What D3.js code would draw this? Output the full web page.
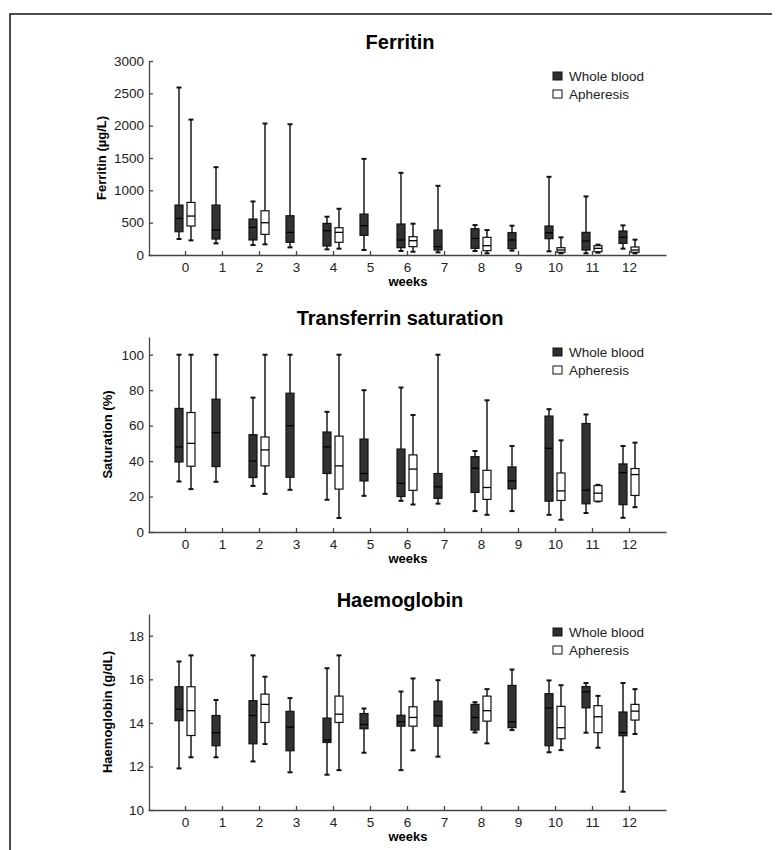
<!DOCTYPE html>
<html>
<head>
<meta charset="utf-8">
<script src="https://cdn.jsdelivr.net/npm/d3@7"></script>
<style>
  body { margin: 0; background: #fff; }
  svg { font-family: "Liberation Sans", Arial, sans-serif; }
</style>
</head>
<body>
<div id="chart"></div>
<script>
// [week, low whisker, q1, median, q3, high whisker]
const weeks = [0, 1, 2, 3, 4, 5, 6, 7, 8, 9, 10, 11, 12];
const seriesNames = ['Whole blood', 'Apheresis'];

const ferritinWB = [
  [0, 247, 360, 566, 772, 2590], [1, 180, 247, 386, 772, 1358], [2, 154, 232, 427, 556, 828],
  [3, 118, 196, 350, 607, 2022], [4, 87, 139, 376, 489, 592], [5, 77, 304, 453, 633, 1487],
  [6, 62, 113, 232, 479, 1271], [7, 41, 77, 130, 386, 1070], [8, 62, 103, 257, 407, 463],
  [9, 67, 98, 232, 345, 453], [10, 57, 252, 345, 448, 1209], [11, 26, 77, 216, 350, 906],
  [12, 98, 180, 273, 371, 458]
];
const ferritinAP = [
  [0, 226, 448, 602, 813, 2094], [2, 165, 319, 499, 684, 2033], [4, 98, 196, 350, 422, 715],
  [6, 51, 129, 221, 283, 484], [8, 26, 67, 144, 273, 386], [10, 26, 41, 77, 113, 273],
  [11, 36, 51, 103, 144, 160], [12, 26, 41, 77, 124, 237]
];

const satWB = [
  [0, 28.5, 39.5, 48, 69.7, 100], [1, 28.3, 36.9, 56, 74.9, 100], [2, 26, 30.7, 40, 54.9, 75.8],
  [3, 23.8, 30.9, 60, 78.3, 100], [4, 18.2, 33, 48, 56.4, 67.8], [5, 20.4, 28.8, 33, 52.4, 80],
  [6, 17.6, 20, 27.5, 46.8, 81.5], [7, 16, 19, 25.5, 33, 100], [8, 11.8, 22.3, 36, 42.5, 45.7],
  [9, 11.8, 24.3, 28.8, 36.7, 48.5], [10, 9.7, 17.4, 47.2, 65.4, 69.3], [11, 10.7, 15.9, 23.6, 61.2, 66.3],
  [12, 8, 15.4, 33.5, 38.4, 48.5]
];
const satAP = [
  [0, 24.2, 37.1, 50, 67.4, 100], [2, 21.5, 37.3, 46.3, 53.6, 100], [4, 7.9, 24.2, 37.3, 54.1, 100],
  [6, 15.5, 23.5, 35.5, 43.5, 66], [8, 9.7, 18.4, 25.1, 34.8, 74.3], [10, 6.9, 17.8, 23.2, 33.3, 51.7],
  [11, 17.2, 17.4, 21.9, 26.2, 26.6], [12, 14, 20.6, 32.4, 35.8, 50.4]
];

const hbWB = [
  [0, 11.91, 14.1, 14.63, 15.66, 16.82], [1, 12.42, 12.95, 13.55, 14.34, 15.05], [2, 12.23, 13.04, 14.34, 15.02, 17.1],
  [3, 11.73, 12.72, 13.81, 14.53, 15.14], [4, 11.62, 13.1, 13.21, 14.22, 16.51], [5, 12.63, 13.73, 13.93, 14.43, 14.66],
  [6, 11.83, 13.85, 14.05, 14.35, 15.44], [7, 12.45, 13.85, 14.33, 15.0, 15.96], [8, 13.56, 13.67, 14.25, 14.85, 14.95],
  [9, 13.67, 13.78, 14.05, 15.72, 16.45], [10, 12.65, 12.95, 14.69, 15.34, 15.95], [11, 13.55, 14.69, 15.43, 15.67, 15.83],
  [12, 10.84, 13.41, 13.55, 14.5, 15.83]
];
const hbAP = [
  [0, 12.42, 13.42, 14.56, 15.66, 17.1], [2, 13.03, 14.02, 14.85, 15.32, 16.12], [4, 11.83, 14.02, 14.4, 15.23, 17.1],
  [6, 12.74, 13.85, 14.25, 14.74, 16.04], [8, 13.06, 14.08, 14.56, 15.23, 15.55], [10, 12.75, 13.27, 13.78, 14.76, 15.73],
  [11, 12.86, 13.55, 14.28, 14.79, 15.24], [12, 13.49, 14.13, 14.54, 14.85, 15.55]
];

const ferritinTicks = [0, 500, 1000, 1500, 2000, 2500, 3000];
const satTicks = [0, 20, 40, 60, 80, 100];
const hbTicks = [10, 12, 14, 16, 18];

const svg = d3.select('#chart').append('svg')
  .attr('width', 782)
  .attr('height', 850);

// scanned frame
svg.append('path')
  .attr('d', 'M10,850 L10,14 L772,14')
  .attr('fill', 'none')
  .attr('stroke', '#111')
  .attr('stroke-width', 1.5);

class BoxPanel {
  constructor(_config, _wb, _ap) {
    this.config = _config;
    this.wb = _wb;
    this.ap = _ap;
    this.initVis();
  }

  initVis() {
    let vis = this;
    const c = vis.config;

    vis.x = d3.scaleLinear().domain([-1, 13]).range([148, 666]);
    vis.y = d3.scaleLinear().domain(c.domain).range([c.bottom, c.top]);

    vis.g = svg.append('g');

    // axes, ticks pointing inwards
    vis.g.append('g')
      .attr('class', 'y-axis')
      .attr('transform', 'translate(149,0)')
      .call(d3.axisRight(vis.y).tickValues(c.ticks).tickSize(4).tickSizeOuter(0).tickFormat(d3.format('d')))
      .call(g => g.selectAll('text').attr('x', -5).attr('text-anchor', 'end'));

    vis.g.append('g')
      .attr('class', 'x-axis')
      .attr('transform', `translate(0,${c.bottom})`)
      .call(d3.axisTop(vis.x).tickValues(weeks).tickSize(4).tickSizeOuter(0))
      .call(g => g.selectAll('text').attr('y', 17).attr('dy', 0));

    vis.g.selectAll('.domain, .tick line')
      .attr('stroke', '#444')
      .attr('stroke-width', 1.3);
    vis.g.selectAll('.tick text')
      .attr('font-size', 13.5)
      .attr('fill', '#222');

    // titles
    vis.g.append('text')
      .attr('x', 400).attr('y', c.titleY)
      .attr('text-anchor', 'middle')
      .attr('font-size', 20).attr('font-weight', 'bold')
      .text(c.title);

    vis.g.append('text')
      .attr('transform', `translate(${c.labelX},${(c.top + c.bottom) / 2}) rotate(-90)`)
      .attr('text-anchor', 'middle')
      .attr('font-size', 13).attr('font-weight', 'bold')
      .text(c.yLabel);

    vis.g.append('text')
      .attr('x', 408).attr('y', c.bottom + 31)
      .attr('text-anchor', 'middle')
      .attr('font-size', 13).attr('font-weight', 'bold')
      .text('weeks');

    // legend
    const legend = vis.g.selectAll('.legend')
      .data(seriesNames)
      .join('g')
      .attr('class', 'legend')
      .attr('transform', (d, i) => `translate(553,${c.legendY + i * 18})`);
    legend.append('rect')
      .attr('x', 0).attr('y', -4).attr('width', 9).attr('height', 8)
      .attr('fill', (d, i) => i === 0 ? '#2e2e2e' : '#fff')
      .attr('stroke', '#111').attr('stroke-width', 1);
    legend.append('text')
      .attr('x', 16).attr('y', 5)
      .attr('font-size', 13.5).attr('fill', '#222')
      .text(d => d);

    vis.renderVis();
  }

  renderVis() {
    let vis = this;
    const w = 8;

    const series = [
      { data: vis.wb, dx: -6, fill: '#323232', med: '#000' },
      { data: vis.ap, dx: 6, fill: '#fff', med: '#000' }
    ];

    series.forEach(s => {
      const box = vis.g.append('g').selectAll('g')
        .data(s.data)
        .join('g')
        .attr('transform', d => `translate(${vis.x(d[0]) + s.dx},0)`);

      box.append('line')
        .attr('y1', d => vis.y(d[1])).attr('y2', d => vis.y(d[5]))
        .attr('stroke', '#1a1a1a').attr('stroke-width', 1.5);
      box.append('line')
        .attr('x1', -2.5).attr('x2', 2.5)
        .attr('y1', d => vis.y(d[5])).attr('y2', d => vis.y(d[5]))
        .attr('stroke', '#111').attr('stroke-width', 2);
      box.append('line')
        .attr('x1', -2.5).attr('x2', 2.5)
        .attr('y1', d => vis.y(d[1])).attr('y2', d => vis.y(d[1]))
        .attr('stroke', '#111').attr('stroke-width', 2);
      box.append('rect')
        .attr('x', -w / 2).attr('width', w)
        .attr('y', d => vis.y(d[4]))
        .attr('height', d => Math.max(1, vis.y(d[2]) - vis.y(d[4])))
        .attr('fill', s.fill)
        .attr('stroke', '#111').attr('stroke-width', 1.2);
      box.append('line')
        .attr('x1', -w / 2).attr('x2', w / 2)
        .attr('y1', d => vis.y(d[3])).attr('y2', d => vis.y(d[3]))
        .attr('stroke', s.med).attr('stroke-width', 1.3);
    });
  }
}

new BoxPanel({
  title: 'Ferritin', titleY: 49, yLabel: 'Ferritin (\u00b5g/L)', labelX: 106,
  domain: [0, 3000], ticks: ferritinTicks, top: 61, bottom: 255, legendY: 76
}, ferritinWB, ferritinAP);

new BoxPanel({
  title: 'Transferrin saturation', titleY: 325, yLabel: 'Saturation (%)', labelX: 112,
  domain: [0, 110], ticks: satTicks, top: 337, bottom: 532, legendY: 352
}, satWB, satAP);

new BoxPanel({
  title: 'Haemoglobin', titleY: 607, yLabel: 'Haemoglobin (g/dL)', labelX: 112,
  domain: [10, 19], ticks: hbTicks, top: 614, bottom: 810, legendY: 632
}, hbWB, hbAP);
</script>
</body>
</html>
